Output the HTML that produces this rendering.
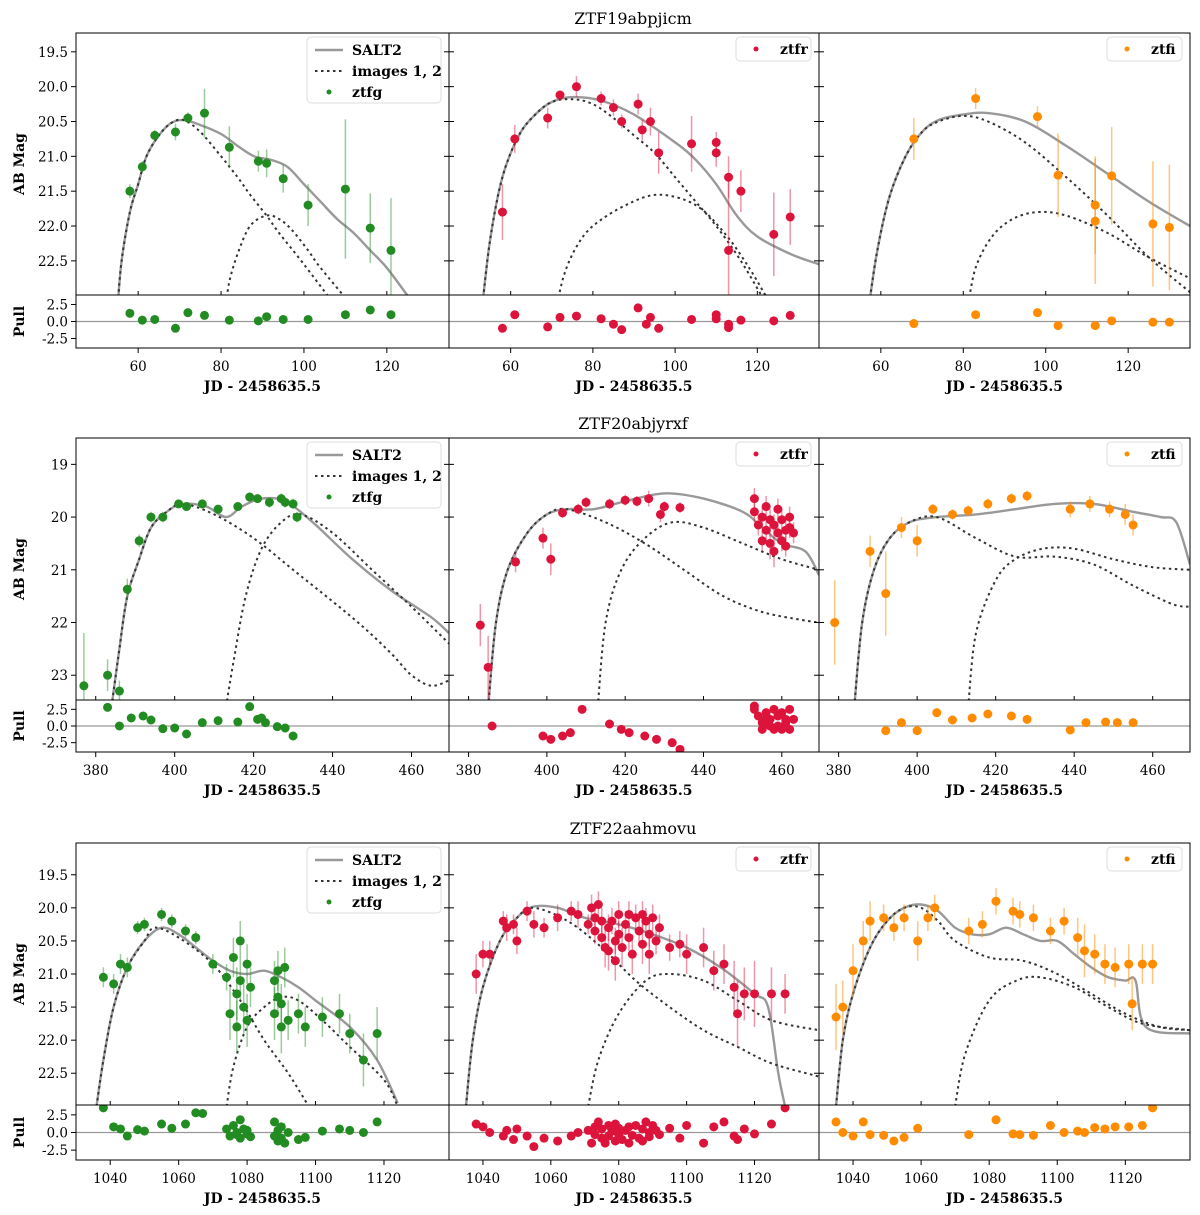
<!DOCTYPE html>
<html><head><meta charset="utf-8"><style>
body{margin:0;background:#fff;}
svg{display:block;font-family:"DejaVu Serif","Liberation Serif",serif;}
</style></head><body>
<svg id="fig" width="1200" height="1215" xmlns="http://www.w3.org/2000/svg"></svg>
<script>
// ---------- DATA ----------
const r1_g_salt = [[55,23.2],[56,22.5],[58,21.8],[60,21.4],[62,21.0],[65,20.7],[68,20.52],[71,20.48],[75,20.55],[80,20.68],[84,20.85],[88,21.0],[92,21.05],[96,21.15],[100,21.4],[104,21.65],[108,21.9],[112,22.1],[116,22.35],[120,22.6],[125,23.0]];
const r1_g_img1 = [[55,23.2],[56,22.5],[58,21.8],[60,21.4],[62,21.0],[65,20.7],[68,20.52],[71,20.48],[75,20.65],[80,21.0],[84,21.3],[87,21.55],[91,21.85],[94,22.1],[100,22.55],[107,23.1]];
const r1_g_img2 = [[81,23.2],[82,22.8],[84,22.4],[87,22.0],[91,21.85],[94,21.9],[97,22.05],[101,22.35],[104,22.6],[111,23.1]];
const r1_g_pts = [[58,21.5,0.1],[61,21.15,0.08],[64,20.7,0.08],[69,20.65,0.12],[72,20.45,0.08],[76,20.38,0.35],[82,20.87,0.3],[89,21.07,0.15],[91,21.1,0.2],[95,21.32,0.2],[101,21.7,0.3],[110,21.47,1.0],[116,22.03,0.5],[121,22.35,0.75]];
const r1_g_pull = [[58,1.2],[61,0.2],[64,0.3],[69,-1.0],[72,1.3],[76,0.9],[82,0.2],[89,0.1],[91,0.7],[95,0.3],[101,0.3],[110,1.0],[116,1.7],[121,1.0]];

const r1_r_salt = [[53,23.2],[55,22.2],[58,21.3],[62,20.7],[66,20.4],[70,20.22],[75,20.15],[82,20.2],[90,20.4],[100,20.8],[105,21.05],[110,21.4],[115,21.85],[120,22.15],[128,22.4],[135,22.55]];
const r1_r_img1 = [[53,23.2],[55,22.2],[58,21.3],[62,20.7],[66,20.4],[70,20.22],[75,20.18],[80,20.25],[85,20.45],[90,20.7],[95,20.95],[100,21.3],[105,21.65],[110,22.0],[116,22.5],[122,23.1]];
const r1_r_img2 = [[71,23.2],[73,22.7],[76,22.3],[80,22.0],[88,21.7],[96,21.55],[105,21.7],[112,22.1],[118,22.6],[123,23.1]];
const r1_r_pts = [[58,21.8,0.4],[61,20.75,0.2],[69,20.45,0.15],[72,20.12,0.05],[76,20.0,0.15],[82,20.17,0.1],[85,20.3,0.12],[87,20.5,0.1],[91,20.25,0.15],[92,20.62,0.15],[94,20.5,0.2],[96,20.95,0.3],[104,20.82,0.4],[110,20.8,0.15],[110,20.95,0.2],[113,21.3,0.3],[113,22.35,1.0],[116,21.5,0.3],[124,22.12,0.6],[128,21.87,0.4]];
const r1_r_pull = [[58,-1.0],[61,1.0],[69,-0.8],[72,0.6],[76,0.8],[82,0.4],[85,-0.4],[87,-1.2],[91,2.0],[93,-0.4],[94,0.6],[96,-1.0],[104,0.3],[110,1.0],[110,0.4],[113,-0.4],[113,-0.9],[116,0.2],[124,0.1],[128,0.9]];

const r1_i_salt = [[57,23.2],[59,22.4],[62,21.6],[66,21.0],[70,20.65],[74,20.48],[80,20.4],[86,20.38],[95,20.5],[105,20.85],[115,21.25],[125,21.65],[135,22.0]];
const r1_i_img1 = [[57,23.2],[59,22.4],[62,21.6],[66,21.0],[70,20.65],[74,20.5],[80,20.42],[86,20.5],[95,20.8],[105,21.3],[115,21.85],[125,22.45],[135,22.95]];
const r1_i_img2 = [[81,23.2],[83,22.6],[87,22.15],[92,21.9],[98,21.8],[105,21.85],[115,22.1],[125,22.45],[135,22.75]];
const r1_i_pts = [[68,20.75,0.3],[83,20.17,0.15],[98,20.43,0.15],[103,21.27,0.6],[112,21.7,0.7],[112,21.93,0.9],[116,21.28,0.7],[126,21.97,0.9],[130,22.02,0.9]];
const r1_i_pull = [[68,-0.3],[83,1.0],[98,1.3],[103,-0.6],[112,-0.6],[116,0.1],[126,-0.1],[130,-0.1]];

const r2_g_salt = [[384,23.6],[386,22.5],[388,21.5],[391,20.8],[394,20.2],[398,19.9],[402,19.75],[408,19.8],[413,20.0],[417,19.8],[422,19.65],[428,19.7],[435,20.1],[445,20.8],[455,21.4],[465,21.9],[469.5,22.2]];
const r2_g_img1 = [[384,23.6],[386,22.5],[388,21.5],[391,20.8],[394,20.2],[398,19.9],[402,19.75],[410,19.95],[420,20.4],[430,21.0],[440,21.6],[448,22.1],[455,22.6],[460,23.0],[465,23.2],[469.5,23.1]];
const r2_g_img2 = [[413,23.6],[415,22.7],[418,21.5],[422,20.6],[427,20.1],[432,19.95],[440,20.3],[450,21.0],[460,21.7],[469.5,22.4]];
const r2_g_pts = [[377,23.2,1.0],[383,23.0,0.3],[386,23.3,0.2],[388,21.37,0.2],[391,20.45,0.12],[394,20.0,0.1],[397,20.0,0.1],[401,19.75,0.05],[403,19.8,0.05],[407,19.75,0.05],[411,19.85,0.05],[416,19.8,0.08],[419,19.62,0.08],[421,19.65,0.08],[424,19.72,0.1],[427,19.65,0.1],[428,19.72,0.1],[430,19.75,0.1],[431,20.0,0.1]];
const r2_g_pull = [[383,2.8],[386,0.0],[389,1.2],[392,1.5],[394,0.9],[397,-0.4],[400,-0.3],[403,-1.2],[407,0.5],[411,0.8],[416,0.6],[419,2.9],[421,1.0],[422,1.2],[423,0.5],[426,-0.1],[428,-0.3],[430,-1.5]];

const r2_r_salt = [[385,23.6],[387,22.0],[390,21.0],[395,20.3],[400,19.95],[405,19.85],[412,19.85],[420,19.7],[430,19.55],[440,19.65],[450,19.9],[455,20.2],[460,20.5],[466,20.65],[469.5,21.1]];
const r2_r_img1 = [[385,23.6],[387,22.0],[390,21.0],[395,20.3],[400,19.95],[405,19.85],[415,20.1],[425,20.5],[435,21.0],[445,21.5],[455,21.8],[465,21.95],[469.5,22.0]];
const r2_r_img2 = [[413,23.6],[415,22.0],[419,21.0],[425,20.4],[432,20.1],[440,20.2],[450,20.5],[460,20.8],[469.5,21.0]];
const r2_r_pts = [[383,22.05,0.4],[385,22.85,0.6],[392,20.85,0.2],[399,20.4,0.2],[401,20.8,0.3],[404,19.92,0.1],[408,19.85,0.1],[410,19.72,0.1],[416,19.75,0.1],[420,19.68,0.1],[423,19.7,0.1],[426,19.65,0.15],[429,19.95,0.15],[430,19.8,0.1],[434,19.82,0.1],[453,19.65,0.2],[453,19.9,0.2],[454,20.15,0.2],[455,20.45,0.2],[455,20.0,0.2],[456,19.8,0.2],[456,20.25,0.2],[457,20.5,0.3],[457,20.05,0.2],[458,20.15,0.2],[458,20.65,0.3],[459,19.85,0.2],[459,20.3,0.2],[460,20.45,0.2],[460,20.05,0.2],[461,20.25,0.2],[461,20.55,0.2],[462,20.2,0.2],[462,20.0,0.2],[463,20.3,0.2]];
const r2_r_pull = [[386,0.0],[399,-1.5],[401,-2.0],[404,-1.5],[406,-1.0],[409,2.5],[416,0.3],[419,-0.5],[421,-1.0],[425,-1.5],[428,-2.0],[432,-2.5],[434,-3.5],[453,3.0],[453,2.5],[454,1.5],[455,0.5],[455,-0.5],[456,1.0],[456,2.0],[457,0.0],[457,1.0],[458,-0.5],[458,2.5],[459,1.5],[459,0.0],[460,2.0],[460,-0.5],[461,1.0],[461,0.5],[462,2.5],[462,-0.5],[463,1.0]];

const r2_i_salt = [[384,23.6],[386,22.0],[389,21.0],[393,20.4],[398,20.1],[405,20.0],[415,19.95],[425,19.85],[435,19.75],[445,19.75],[455,19.9],[462,20.0],[466,20.1],[469.5,20.9]];
const r2_i_img1 = [[384,23.6],[386,22.0],[389,21.0],[393,20.4],[398,20.1],[405,20.0],[415,20.4],[425,20.75],[435,20.75],[445,20.9],[455,21.3],[465,21.65],[469.5,21.7]];
const r2_i_img2 = [[413,23.6],[415,22.2],[420,21.2],[425,20.8],[432,20.6],[440,20.6],[450,20.8],[460,20.95],[469.5,21.0]];
const r2_i_pts = [[379,22.0,0.8],[388,20.65,0.3],[392,21.45,0.8],[396,20.2,0.2],[400,20.45,0.3],[404,19.85,0.1],[409,19.95,0.1],[413,19.88,0.1],[418,19.75,0.1],[424,19.65,0.1],[428,19.6,0.1],[439,19.85,0.15],[444,19.75,0.15],[449,19.85,0.15],[453,19.95,0.2],[455,20.15,0.2]];
const r2_i_pull = [[392,-0.7],[396,0.5],[400,-0.7],[405,2.0],[409,0.9],[414,1.2],[418,1.8],[424,1.5],[428,1.0],[439,-0.6],[443,0.5],[448,0.6],[451,0.5],[455,0.5]];

const r3_g_salt = [[1036,23.0],[1038,22.3],[1041,21.5],[1045,20.9],[1050,20.5],[1055,20.3],[1060,20.4],[1065,20.6],[1070,20.8],[1075,20.95],[1080,21.0],[1085,20.95],[1090,21.05],[1095,21.2],[1100,21.4],[1110,21.8],[1118,22.3],[1124,22.95]];
const r3_g_img1 = [[1036,23.0],[1038,22.3],[1041,21.5],[1045,20.9],[1050,20.5],[1053,20.3],[1060,20.45],[1070,20.85],[1078,21.4],[1085,22.0],[1092,22.5],[1098,23.0]];
const r3_g_img2 = [[1074,23.0],[1076,22.4],[1080,21.8],[1085,21.5],[1090,21.35],[1095,21.4],[1102,21.7],[1110,22.1],[1120,22.6],[1124,23.0]];
const r3_g_pts = [[1038,21.05,0.15],[1041,21.15,0.15],[1043,20.85,0.15],[1045,20.9,0.15],[1048,20.3,0.1],[1050,20.25,0.1],[1055,20.1,0.1],[1058,20.2,0.1],[1062,20.35,0.1],[1065,20.45,0.1],[1070,20.85,0.15],[1074,21.05,0.2],[1075,21.6,0.4],[1076,20.75,0.3],[1077,21.3,0.4],[1077,21.8,0.4],[1078,20.5,0.3],[1078,21.1,0.3],[1079,21.5,0.4],[1080,20.85,0.3],[1080,21.7,0.4],[1081,21.2,0.3],[1088,21.1,0.3],[1088,21.6,0.4],[1089,20.95,0.3],[1089,21.35,0.3],[1090,21.8,0.4],[1090,21.45,0.3],[1091,20.9,0.3],[1092,21.7,0.3],[1095,21.6,0.3],[1097,21.8,0.3],[1102,21.65,0.3],[1107,21.6,0.3],[1110,21.9,0.3],[1114,22.3,0.4],[1118,21.9,0.4]];
const r3_g_pull = [[1038,3.5],[1041,0.8],[1043,0.5],[1045,-0.5],[1048,0.4],[1050,0.2],[1055,1.2],[1058,0.6],[1062,1.2],[1065,2.8],[1067,2.7],[1074,0.5],[1075,-0.5],[1076,1.0],[1077,-0.3],[1077,0.0],[1078,1.8],[1078,-0.8],[1079,0.5],[1080,-0.2],[1080,0.3],[1081,-0.6],[1088,1.5],[1088,-0.5],[1089,0.3],[1089,-1.2],[1090,-0.8],[1090,0.8],[1091,-1.5],[1092,0.0],[1095,-1.0],[1097,-0.7],[1102,0.2],[1107,0.5],[1110,0.3],[1114,0.0],[1118,1.5]];

const r3_r_salt = [[1035,23.0],[1037,22.0],[1040,21.2],[1045,20.5],[1050,20.15],[1055,19.98],[1062,20.0],[1070,20.15],[1080,20.25],[1090,20.4],[1100,20.6],[1110,20.9],[1120,21.3],[1124,21.5],[1127,22.5],[1129,23.0]];
const r3_r_img1 = [[1035,23.0],[1037,22.0],[1040,21.2],[1045,20.5],[1050,20.15],[1055,20.0],[1065,20.2],[1075,20.6],[1085,21.1],[1095,21.5],[1105,21.85],[1115,22.1],[1125,22.35],[1139,22.55]];
const r3_r_img2 = [[1071,23.0],[1074,22.3],[1080,21.6],[1088,21.1],[1095,21.0],[1105,21.1],[1115,21.4],[1125,21.7],[1139,21.85]];
const r3_r_pts = [[1038,21.0,0.3],[1040,20.7,0.2],[1042,20.7,0.2],[1046,20.2,0.15],[1047,20.3,0.2],[1049,20.25,0.15],[1050,20.5,0.2],[1053,20.05,0.15],[1055,20.25,0.2],[1058,20.3,0.15],[1062,20.15,0.2],[1066,20.05,0.15],[1068,20.1,0.2],[1071,20.25,0.15],[1072,20.0,0.2],[1073,20.15,0.2],[1073,20.35,0.2],[1074,19.95,0.2],[1075,20.2,0.2],[1075,20.45,0.2],[1076,20.6,0.3],[1077,20.3,0.2],[1077,20.65,0.3],[1078,20.2,0.2],[1079,20.5,0.2],[1079,20.8,0.3],[1080,20.1,0.2],[1080,20.4,0.2],[1081,20.6,0.3],[1082,20.25,0.2],[1083,20.1,0.2],[1083,20.45,0.2],[1084,20.7,0.3],[1085,20.15,0.2],[1086,20.35,0.2],[1087,20.1,0.2],[1087,20.55,0.3],[1088,20.2,0.2],[1089,20.4,0.2],[1089,20.7,0.3],[1090,20.15,0.2],[1091,20.5,0.2],[1092,20.3,0.2],[1095,20.6,0.2],[1098,20.55,0.2],[1100,20.7,0.3],[1105,20.6,0.3],[1108,20.95,0.3],[1111,20.85,0.3],[1114,21.2,0.4],[1115,21.6,0.5],[1117,21.3,0.4],[1120,21.3,0.5],[1125,21.3,0.4],[1129,21.3,0.3]];
const r3_r_pull = [[1038,1.2],[1040,0.8],[1042,0.0],[1046,-0.5],[1047,0.3],[1049,-1.0],[1050,0.5],[1053,-0.5],[1055,-2.0],[1058,-0.8],[1062,-1.2],[1066,-0.5],[1068,0.0],[1071,0.3],[1072,-1.5],[1073,0.8],[1073,-0.3],[1074,1.5],[1075,-0.8],[1075,0.5],[1076,-1.5],[1077,1.0],[1077,-0.5],[1078,0.2],[1079,-1.2],[1079,1.2],[1080,-0.3],[1080,0.6],[1081,-1.0],[1082,0.3],[1083,-1.5],[1083,0.8],[1084,-0.4],[1085,1.0],[1086,-0.8],[1087,0.5],[1087,-1.2],[1088,1.5],[1089,0.0],[1089,-0.6],[1090,1.0],[1091,0.3],[1092,-0.3],[1095,0.6],[1098,-0.8],[1100,1.0],[1105,-1.5],[1108,0.8],[1111,1.5],[1114,-0.5],[1115,-1.0],[1117,0.5],[1120,-0.2],[1125,1.2],[1129,3.5]];

const r3_i_salt = [[1035,23.0],[1037,22.0],[1040,21.3],[1045,20.6],[1050,20.2],[1055,20.0],[1060,19.95],[1065,20.05],[1070,20.3],[1075,20.4],[1080,20.4],[1085,20.3],[1090,20.4],[1095,20.5],[1100,20.5],[1105,20.7],[1110,20.9],[1115,21.05],[1120,21.1],[1123,21.1],[1126,21.8],[1139,21.9]];
const r3_i_img1 = [[1035,23.0],[1037,22.0],[1040,21.3],[1045,20.6],[1050,20.2],[1055,20.0],[1060,20.0],[1065,20.2],[1070,20.5],[1080,20.75],[1090,20.8],[1100,21.0],[1110,21.3],[1120,21.6],[1130,21.8],[1139,21.85]];
const r3_i_img2 = [[1070,23.0],[1073,22.2],[1080,21.4],[1088,21.1],[1095,21.05],[1105,21.2],[1115,21.5],[1125,21.75],[1139,21.85]];
const r3_i_pts = [[1035,21.65,0.5],[1037,21.5,0.4],[1040,20.95,0.4],[1043,20.5,0.3],[1045,20.2,0.3],[1049,20.15,0.2],[1052,20.3,0.2],[1055,20.15,0.2],[1059,20.5,0.3],[1062,20.15,0.2],[1064,20.0,0.2],[1074,20.35,0.2],[1078,20.25,0.2],[1082,19.9,0.2],[1087,20.05,0.2],[1089,20.1,0.2],[1093,20.15,0.2],[1098,20.35,0.2],[1102,20.2,0.2],[1106,20.45,0.3],[1108,20.65,0.4],[1111,20.7,0.3],[1114,20.85,0.3],[1117,20.9,0.3],[1121,20.85,0.3],[1122,21.45,0.4],[1125,20.85,0.3],[1128,20.85,0.3]];
const r3_i_pull = [[1035,1.5],[1037,0.0],[1040,-0.5],[1043,1.5],[1045,-0.3],[1049,-0.4],[1052,-1.2],[1055,-0.7],[1059,0.6],[1074,-0.3],[1082,1.8],[1087,-0.2],[1089,-0.3],[1093,-0.4],[1098,1.0],[1102,0.0],[1106,0.2],[1108,0.0],[1111,0.7],[1114,0.5],[1117,0.8],[1121,0.8],[1125,1.0],[1128,3.5]];

const rowTitles = ['ZTF19abpjicm','ZTF20abjyrxf','ZTF22aahmovu'];
const rowXTicks = [[60,80,100,120],[380,400,420,440,460],[1040,1060,1080,1100,1120]];
const rowYTicks = [[19.5,20.0,20.5,21.0,21.5,22.0,22.5],[19,20,21,22,23],[19.5,20.0,20.5,21.0,21.5,22.0,22.5]];
const pullTicks = [2.5,0.0,-2.5];
const rowXRange = [[45,135],[375,469.5],[1030,1139]];
const rowYRange = [[19.23,22.99],[18.5,23.47],[19.02,22.98]];

// ---------- LAYOUT ----------
const rows = [{top:33,mid:295,bot:348},{top:438,mid:700,bot:752},{top:843,mid:1105,bot:1160}];
const cols = [[76,449],[449,819],[819,1190]];
const bands = [{name:'ztfg',color:'#228b22',err:'rgba(34,139,34,0.45)'},{name:'ztfr',color:'#dc143c',err:'rgba(220,20,60,0.45)'},{name:'ztfi',color:'#ff8c00',err:'rgba(255,140,0,0.5)'}];
const series = [
 [[r1_g_salt,r1_g_img1,r1_g_img2,r1_g_pts,r1_g_pull],[r1_r_salt,r1_r_img1,r1_r_img2,r1_r_pts,r1_r_pull],[r1_i_salt,r1_i_img1,r1_i_img2,r1_i_pts,r1_i_pull]],
 [[r2_g_salt,r2_g_img1,r2_g_img2,r2_g_pts,r2_g_pull],[r2_r_salt,r2_r_img1,r2_r_img2,r2_r_pts,r2_r_pull],[r2_i_salt,r2_i_img1,r2_i_img2,r2_i_pts,r2_i_pull]],
 [[r3_g_salt,r3_g_img1,r3_g_img2,r3_g_pts,r3_g_pull],[r3_r_salt,r3_r_img1,r3_r_img2,r3_r_pts,r3_r_pull],[r3_i_salt,r3_i_img1,r3_i_img2,r3_i_pts,r3_i_pull]]
];
const PR = 3.9;
const NS='http://www.w3.org/2000/svg';
const svg=document.getElementById('fig');
function mk(tag,attrs,parent){const e=document.createElementNS(NS,tag);for(const k in attrs)e.setAttribute(k,attrs[k]);(parent||svg).appendChild(e);return e;}
function txt(s,attrs,parent){const e=mk('text',attrs,parent);e.textContent=s;return e;}
function smooth(P){
  let d='M'+P[0][0].toFixed(1)+','+P[0][1].toFixed(1);
  for(let i=0;i<P.length-1;i++){
    const p0=P[Math.max(0,i-1)],p1=P[i],p2=P[i+1],p3=P[Math.min(P.length-1,i+2)];
    const c1=[p1[0]+(p2[0]-p0[0])/6,p1[1]+(p2[1]-p0[1])/6];
    const c2=[p2[0]-(p3[0]-p1[0])/6,p2[1]-(p3[1]-p1[1])/6];
    d+='C'+c1[0].toFixed(1)+','+c1[1].toFixed(1)+' '+c2[0].toFixed(1)+','+c2[1].toFixed(1)+' '+p2[0].toFixed(1)+','+p2[1].toFixed(1);
  }
  return d;
}
const defs=mk('defs',{});

rows.forEach((R,ri)=>{
  const t=txt(rowTitles[ri],{x:633,y:R.top-9,'text-anchor':'middle','font-size':16});
  
  
  const [x0r,x1r]=rowXRange[ri],[y0r,y1r]=rowYRange[ri];
  cols.forEach((C,ci)=>{
    const g=mk('g',{});
    
    
    const xs=v=>C[0]+(v-x0r)/(x1r-x0r)*(C[1]-C[0]);
    const ys=v=>R.top+(v-y0r)/(y1r-y0r)*(R.mid-R.top);
    const ps=v=>R.mid+(PR-v)/(2*PR)*(R.bot-R.mid);
    const cid='c'+ri+ci, pid='p'+ri+ci;
    const cp=mk('clipPath',{id:cid},defs);mk('rect',{x:C[0],y:R.top,width:C[1]-C[0],height:R.mid-R.top},cp);
    const cp2=mk('clipPath',{id:pid},defs);mk('rect',{x:C[0],y:R.mid,width:C[1]-C[0],height:R.bot-R.mid},cp2);
    const [salt,im1,im2,pts,pull]=series[ri][ci];
    const band=bands[ci];
    const mg=mk('g',{'clip-path':'url(#'+cid+')'},g);
    const line=(arr,st,nm)=>{const p=mk('path',Object.assign({d:smooth(arr.map(q=>[xs(q[0]),ys(q[1])])),fill:'none'},st),mg);};
    line(salt,{stroke:'#999',"stroke-width":2.4},'salt2-curve');
    line(im1,{stroke:'#333','stroke-width':2,'stroke-dasharray':'2.5,3.5'},'image1-curve');
    line(im2,{stroke:'#333','stroke-width':2,'stroke-dasharray':'2.5,3.5'},'image2-curve');
    pts.forEach(q=>{
      const e=mk('line',{x1:xs(q[0]),x2:xs(q[0]),y1:ys(q[1]-q[2]),y2:ys(q[1]+q[2]),stroke:band.err,'stroke-width':1.5},mg);
      
      
    });
    pts.forEach(q=>{
      const c=mk('circle',{cx:xs(q[0]),cy:ys(q[1]),r:4.5,fill:band.color},mg);
      
      
    });
    const pg=mk('g',{'clip-path':'url(#'+pid+')'},g);
    mk('line',{x1:C[0],x2:C[1],y1:ps(0),y2:ps(0),stroke:'#999','stroke-width':1.3},pg);
    pull.forEach(q=>{
      const c=mk('circle',{cx:xs(q[0]),cy:ps(q[1]),r:4.5,fill:band.color},pg);
      
      
    });
    mk('rect',{x:C[0],y:R.top,width:C[1]-C[0],height:R.mid-R.top,fill:'none',stroke:'#000','stroke-width':1},g);
    mk('rect',{x:C[0],y:R.mid,width:C[1]-C[0],height:R.bot-R.mid,fill:'none',stroke:'#000','stroke-width':1},g);
    rowXTicks[ri].forEach(v=>{
      const X=xs(v);
      mk('line',{x1:X,x2:X,y1:R.bot,y2:R.bot+5,stroke:'#000'},g);
      mk('line',{x1:X,x2:X,y1:R.mid,y2:R.mid-4,stroke:'#000'},g);
      txt(String(v),{x:X,y:R.bot+23,'text-anchor':'middle','font-size':13.5},g);
    });
    const xl=txt('JD - 2458635.5',{x:(C[0]+C[1])/2,y:R.bot+43,'text-anchor':'middle','font-size':14,'font-weight':'bold'},g);
    
    
    rowYTicks[ri].forEach(v=>{
      const Y=ys(v);
      if(ci==0){mk('line',{x1:C[0],x2:C[0]-5,y1:Y,y2:Y,stroke:'#000'},g);
        txt(Number.isInteger(v)&&ri==1?String(v):v.toFixed(1),{x:C[0]-8,y:Y+5,'text-anchor':'end','font-size':13.5},g);}
      else mk('line',{x1:C[0],x2:C[0]+5,y1:Y,y2:Y,stroke:'#000'},g);
      if(ci<2) mk('line',{x1:C[1],x2:C[1]-5,y1:Y,y2:Y,stroke:'#000'},g);
    });
    if(ci==0){
      pullTicks.forEach(v=>{const Y=ps(v);mk('line',{x1:C[0],x2:C[0]-5,y1:Y,y2:Y,stroke:'#000'},g);txt(v.toFixed(1),{x:C[0]-8,y:Y+5,'text-anchor':'end','font-size':13.5},g);});
      const ya=txt('AB Mag',{x:0,y:0,'text-anchor':'middle','font-size':14,'font-weight':'bold',transform:`translate(24,${(R.top+R.mid)/2}) rotate(-90)`},g);
      
      
      const pa=txt('Pull',{x:0,y:0,'text-anchor':'middle','font-size':14,'font-weight':'bold',transform:`translate(24,${(R.mid+R.bot)/2}) rotate(-90)`},g);
      
      
    }
    const lg=mk('g',{},g);
    
    
    if(ci==0){
      const lx=307,ly=R.top+4;
      mk('rect',{x:lx,y:ly,width:134,height:66,rx:4,fill:'#fff','fill-opacity':0.85,stroke:'#ddd'},lg);
      mk('line',{x1:lx+8,x2:lx+36,y1:ly+13,y2:ly+13,stroke:'#999','stroke-width':2.4},lg);
      txt('SALT2',{x:lx+45,y:ly+18,'font-size':14,'font-weight':'bold'},lg);
      mk('line',{x1:lx+8,x2:lx+36,y1:ly+34,y2:ly+34,stroke:'#333','stroke-width':2,'stroke-dasharray':'2.5,3.5'},lg);
      txt('images 1, 2',{x:lx+45,y:ly+39,'font-size':14,'font-weight':'bold'},lg);
      mk('circle',{cx:lx+22,cy:ly+55,r:2.5,fill:band.color},lg);
      txt('ztfg',{x:lx+45,y:ly+60,'font-size':14,'font-weight':'bold'},lg);
    } else {
      const lx=C[1]-83,ly=R.top+4;
      mk('rect',{x:lx,y:ly,width:75,height:24,rx:4,fill:'#fff','fill-opacity':0.85,stroke:'#ddd'},lg);
      mk('circle',{cx:lx+20,cy:ly+12,r:2.5,fill:band.color},lg);
      txt(band.name,{x:lx+44,y:ly+17,'font-size':14,'font-weight':'bold'},lg);
    }
  });
});
</script>
</body></html>
